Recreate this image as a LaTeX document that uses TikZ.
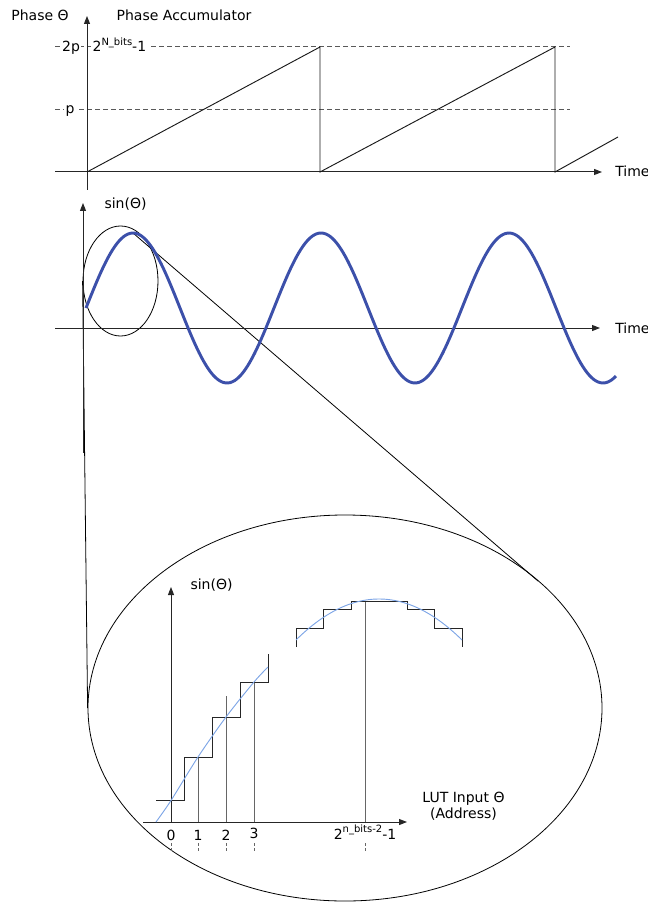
\documentclass[tikz,border=0pt]{standalone}
\usepackage{fontspec}
\setmainfont{DejaVu Sans}
\usetikzlibrary{arrows.meta,shapes.geometric}
\definecolor{sinblue}{RGB}{60,80,170}
\definecolor{lightblue}{RGB}{125,165,230}
\newcommand{\supx}[1]{\raisebox{0.8ex}{\fontsize{7.5}{8}\selectfont #1}}
\begin{document}
\begin{tikzpicture}[x=0.75pt,y=-0.75pt,
  every node/.style={font=\fontsize{10.5}{12}\selectfont, inner sep=0pt},
  axis/.style={draw=black!85, line width=0.75pt, -{Triangle[length=6pt,width=4.5pt]}},
  guide/.style={draw=black!65, line width=0.75pt, dash pattern=on 3.75pt off 2.25pt},
  ramp/.style={draw=black!90, line width=0.7pt},
  wave/.style={draw=sinblue, line width=2.2pt, line join=round},
  thinwave/.style={draw=lightblue, line width=0.7pt},
  stair/.style={draw=black!85, line width=0.75pt},
  sample/.style={draw=black!60, line width=0.75pt},
  tickmark/.style={draw=black!60, line width=0.6pt, dash pattern=on 2.5pt off 1.5pt},
  lbl/.style={anchor=base},
  mask/.style={anchor=base, fill=white, inner xsep=1pt, inner ysep=0.5pt},
  zoomring/.style={draw=black, line width=0.6pt, ellipse, inner sep=0pt}]
\useasboundingbox (0,0) rectangle (647,902);

% ---------------- top panel: phase accumulator ----------------
\draw[guide] (55,47) -- (570,47);
\draw[guide] (55,110) -- (570,110);
\draw[axis] (87,190) -- (87,16);
\draw[axis] (55,172) -- (602,172);
\draw[ramp] (87,172) -- (320,47) -- (320,172) -- (555,47) -- (555,172) -- (618,137);
\node[lbl] (phaselbl) at (40,21) {Phase Θ};
\node[lbl] (acclbl) at (184,21) {Phase Accumulator};
\node[mask] (twop) at (71,52) {2p};
\node[mask] (pl) at (70,113.5) {p};
\node[mask, anchor=base west] (nbits) at (91,52) {2\supx{N\_bits}-1};
\node[lbl, anchor=base west] (time1) at (615,177) {Time};

% ---------------- middle panel: sine ----------------
\node[zoomring, minimum width=56.25pt, minimum height=82.5pt] (small) at (120.5,281) {};
\node[zoomring, minimum width=385.5pt, minimum height=289.5pt] (big) at (345,708) {};
\coordinate (peak) at (133,233);
\coordinate (tang) at (538,581);
\draw[line width=0.6pt] (small.west) -- (big.west);
\draw[line width=0.6pt] (peak) -- (tang);
\draw[axis] (83,453) -- (83,203);
\draw[axis] (55,328) -- (600,328);
\draw[wave] plot[domain=86:616, samples=240] (\x, {308 - 75*sin(1.914894*(\x-86))});
\node[lbl] (sin1) at (125.5,209) {sin(Θ)};
\node[lbl, anchor=base west] (time2) at (615,333) {Time};

% ---------------- bottom panel: LUT ----------------
\draw[axis] (171,822) -- (171,587);
\draw[axis] (143,822) -- (407,822);
\node[lbl] (sin2) at (211.5,589) {sin(Θ)};
\node[lbl, align=center, anchor=base] (lut) at (463.5,818) {LUT Input Θ\\[-0.4pt](Address)};

% sample lines
\draw[sample] (198,822) -- (198,757);
\draw[sample] (226,822) -- (226,696);
\draw[sample] (254,822) -- (254,682);
\draw[sample] (365,822) -- (365,601);

% rising staircase
\draw[stair] (156,800.5) -- (184,800.5) -- (184,757) -- (212,757) -- (212,717)
  -- (240,717) -- (240,682) -- (268,682) -- (268,654);
\draw[thinwave] plot[smooth] coordinates {(156,822) (171,800.5) (198,757) (226,717) (254,682) (268,667)};

% top staircase
\draw[stair] (296,647) -- (296,628) -- (323,628) -- (323,609) -- (351,609) -- (351,601)
  -- (407,601) -- (407,609) -- (434,609) -- (434,628) -- (462,628) -- (462,647);
\draw[thinwave] plot[domain=296:462, samples=60] (\x, {599 + 41*((\x-379)/83)^2});

% tick labels and ticks
\node[lbl] (t0) at (171,840) {0};
\node[lbl] (t1) at (198,840) {1};
\node[lbl] (t2) at (226,840) {2};
\node[lbl] (t3) at (254,838) {3};
\node[lbl] (tn) at (365,839) {2\supx{n\_bits-2}-1};
\foreach \tx in {171,198,226,254,365} \draw[tickmark] (\tx,843) -- (\tx,851);
\end{tikzpicture}
\end{document}
